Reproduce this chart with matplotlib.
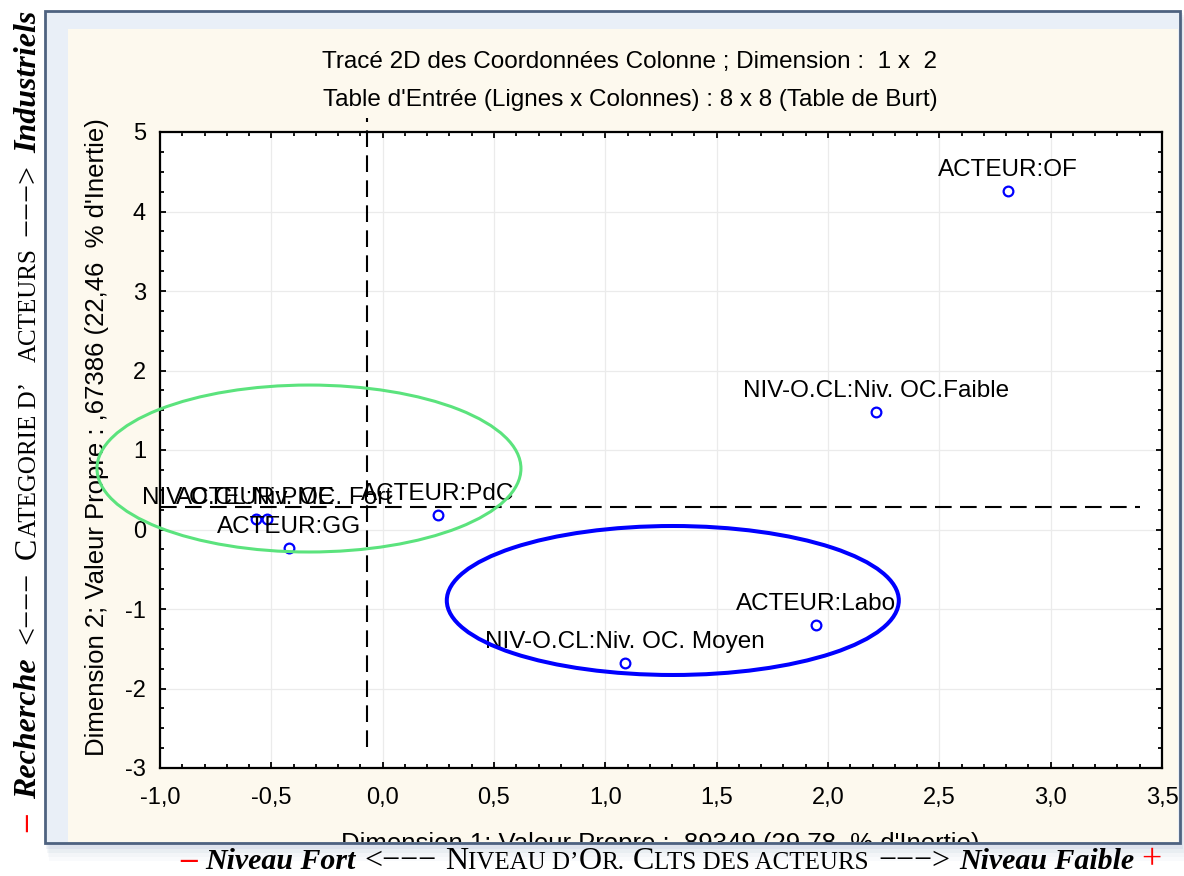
import numpy as np
import matplotlib
matplotlib.use("Agg")
import matplotlib.pyplot as plt
from matplotlib.patches import Ellipse, Rectangle
from matplotlib.ticker import MultipleLocator, FuncFormatter

plt.rcParams["font.family"] = ["Liberation Sans", "DejaVu Sans"]
plt.rcParams["axes.unicode_minus"] = False

# column coordinates (dimension 1 x dimension 2)
labels = ["ACTEUR:OF", "NIV-O.CL:Niv. OC.Faible", "ACTEUR:Labo",
          "NIV-O.CL:Niv. OC. Moyen", "ACTEUR:PdC", "ACTEUR:GG",
          "NIV-O.CL:Niv. OC. Fort", "ACTEUR:PME"]
dim1 = [2.81, 2.215, 1.946, 1.088, 0.248, -0.421, -0.52, -0.57]
dim2 = [4.26, 1.48, -1.20, -1.68, 0.18, -0.23, 0.13, 0.13]

# reference dashed lines
vline_x = -0.07
vline_span = [-2.73, 5.18]
hline_y = 0.28
hline_span = [-1.0, 3.4]

# group ellipses: centre x, centre y, width, height, colour, line width
groups = [
    (-0.331, 0.767, 1.904, 2.10, "#5be37d", 2.2),
    (1.303, -0.893, 2.03, 1.874, "#0000ff", 2.9),
]

title1 = "Tracé 2D des Coordonnées Colonne ; Dimension :  1 x  2"
title2 = "Table d'Entrée (Lignes x Colonnes) : 8 x 8 (Table de Burt)"
xlab = "Dimension 1; Valeur Propre : ,89349 (29,78  % d'Inertie)"
ylab = "Dimension 2; Valeur Propre : ,67386 (22,46  % d'Inertie)"

fig = plt.figure(figsize=(11.84, 8.76), dpi=100)
fig.patch.set_facecolor("white")

# background "window" drawn in pixel coordinates
bg = fig.add_axes([0, 0, 1, 1], zorder=0)
bg.set_xlim(0, 1184)
bg.set_ylim(876, 0)
bg.axis("off")
for i, a in enumerate([0.10, 0.08, 0.06, 0.04, 0.03]):
    bg.add_patch(Rectangle((45 + i, 11 + 2 * i), 1135 + 2 * i, 834 + 2 * i,
                           facecolor="#5b7aa8", edgecolor="none", alpha=a))
bg.add_patch(Rectangle((45, 11), 1135, 832, facecolor="#e9eff7",
                       edgecolor="#4e6280", lw=2))
panel = Rectangle((68, 29), 1110, 813, facecolor="#fdf9ee", edgecolor="none")
bg.add_patch(panel)

bg.text(629, 62, title1, ha="center", va="center", fontsize=17.5)
bg.text(630, 100, title2, ha="center", va="center", fontsize=17.5)
bg.text(97, 437, ylab, ha="center", va="center", rotation=90, fontsize=18.5)
xl = bg.text(660, 832, xlab, ha="center", va="top", fontsize=18.5, clip_on=True)
xl.set_clip_path(panel)

# main plot
ax = fig.add_axes([160 / 1184, 1 - 768 / 876, 1002 / 1184, 636 / 876], zorder=1)
ax.set_facecolor("white")
ax.set_xlim(-1, 3.5)
ax.set_ylim(-3, 5)
ax.set_xticks(np.arange(-1, 3.51, 0.5))
ax.set_yticks(np.arange(-3, 6, 1))
ax.xaxis.set_minor_locator(MultipleLocator(0.1))
ax.yaxis.set_minor_locator(MultipleLocator(0.25))
ax.xaxis.set_major_formatter(FuncFormatter(lambda v, p: f"{v:.1f}".replace(".", ",")))
ax.yaxis.set_major_formatter(FuncFormatter(lambda v, p: f"{v:.0f}"))
ax.tick_params(which="both", direction="in", top=True, right=True, width=1.3, labelsize=17)
ax.tick_params(which="major", length=4)
ax.tick_params(which="minor", length=3)
ax.tick_params(axis="x", pad=14)
ax.tick_params(axis="y", pad=10)
for s in ax.spines.values():
    s.set_linewidth(1.6)
ax.grid(True, which="major", color="#ebebeb", lw=0.9)
ax.set_axisbelow(True)

ax.plot([vline_x, vline_x], vline_span, color="black", lw=1.5, dashes=(8, 4), clip_on=False)
ax.plot(hline_span, [hline_y, hline_y], color="black", lw=1.5, dashes=(8, 4), clip_on=False)

ax.plot(dim1, dim2, "o", ms=7, mfc="none", mec="#0000ff", mew=1.6, zorder=4)
for lab, x, y in zip(labels, dim1, dim2):
    ax.annotate(lab, (x, y), xytext=(0, 11), textcoords="offset points",
                ha="center", va="baseline", fontsize=17.5, zorder=5)

for cx, cy, w, h, col, lw in groups:
    ax.add_patch(Ellipse((cx, cy), w, h, fill=False, edgecolor=col, lw=lw,
                         clip_on=False, zorder=6))

# annotation texts outside the window (serif, small caps imitation)
renderer = fig.canvas.get_renderer()
serif = ["Liberation Serif", "DejaVu Serif"]
big, small, arrow = 21.5, 18, 23
bi = dict(fontweight="bold", fontstyle="italic")
red = dict(color="red", fontsize=24, fontweight="bold")


def chain(x, y, pieces, vertical=False):
    for txt, kw, gap in pieces:
        t = bg.text(x, y, txt, ha="left", va="baseline", family=serif,
                    rotation=90 if vertical else 0, rotation_mode="anchor", **kw)
        bb = t.get_window_extent(renderer)
        if vertical:
            y -= bb.height + gap
        else:
            x += bb.width + gap


bottom = [
    ("\u2013", red, 9),
    ("Niveau Fort", dict(fontsize=big, **bi), 8),
    ("<\u2212\u2212\u2212", dict(fontsize=arrow), 9),
    ("N", dict(fontsize=arrow), 0),
    ("IVEAU D\u2019", dict(fontsize=small), 0),
    ("O", dict(fontsize=arrow), 0),
    ("R.", dict(fontsize=small), 8),
    ("C", dict(fontsize=arrow), 0),
    ("LTS DES ACTEURS", dict(fontsize=small), 10),
    ("\u2212\u2212\u2212>", dict(fontsize=arrow), 9),
    ("Niveau Faible", dict(fontsize=big, **bi), 7),
    ("+", dict(color="red", fontsize=26), 0),
]
chain(180, 869, bottom)

left = [
    ("\u2013", red, 16),
    ("Recherche", dict(fontsize=arrow, **bi), 15),
    ("<\u2212\u2212\u2212", dict(fontsize=arrow), 13),
    ("C", dict(fontsize=arrow), 0),
    ("ATEGORIE D\u2019", dict(fontsize=small), 20),
    ("ACTEURS", dict(fontsize=small), 12),
    ("\u2212\u2212\u2212>", dict(fontsize=arrow), 11),
    ("Industriels", dict(fontsize=arrow, **bi), 0),
]
chain(36, 832, left, vertical=True)

fig.savefig("out.png", dpi=100)
